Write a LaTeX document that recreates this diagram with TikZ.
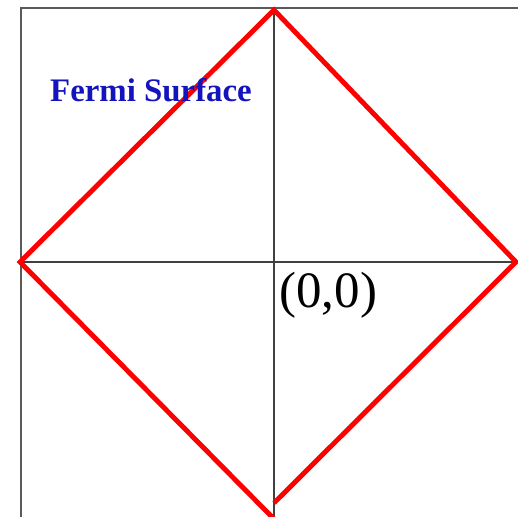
\documentclass[tikz,border=0pt]{standalone}
\usepackage{fontspec}
\setmainfont{Liberation Serif}
\usepackage{xcolor}
\definecolor{fermiblue}{RGB}{20,20,190}
\definecolor{framegray}{RGB}{90,90,90}

\begin{document}
\begin{tikzpicture}[
  x=0.02cm, y=0.02cm,
  frame/.style={draw=framegray, line width=1.1pt},
  axis/.style={draw=black!75, line width=0.8pt},
  fermi/.style={draw=red, line width=2.8pt, line join=miter},
  title/.style={font=\bfseries\fontsize{18.7}{22}\selectfont, text=fermiblue, inner sep=0pt},
  origin/.style={font=\fontsize{29}{34}\selectfont, inner sep=0pt, anchor=west}
]
  \useasboundingbox (0,0) rectangle (518,517);
  \clip (0,0) rectangle (518,517);

  % frame and axes
  \draw[frame] (21,0) -- (21,509) -- (518,509);
  \draw[axis] (274,0) -- (274,509);
  \draw[axis] (21,255) -- (518,255);

  % Fermi surface
  \coordinate (top) at (274,507);
  \coordinate (right) at (516,255);
  \coordinate (bottom) at (274,-2);
  \coordinate (left) at (20,255);
  \coordinate (gap) at (274,14);
  \draw[fermi] (gap) -- (right) -- (top) -- (left) -- (bottom);

  \node[title] (fs) at (151,427) {Fermi Surface};
  \node[origin] (org) at (279,222) {(0,0)};
\end{tikzpicture}
\end{document}
